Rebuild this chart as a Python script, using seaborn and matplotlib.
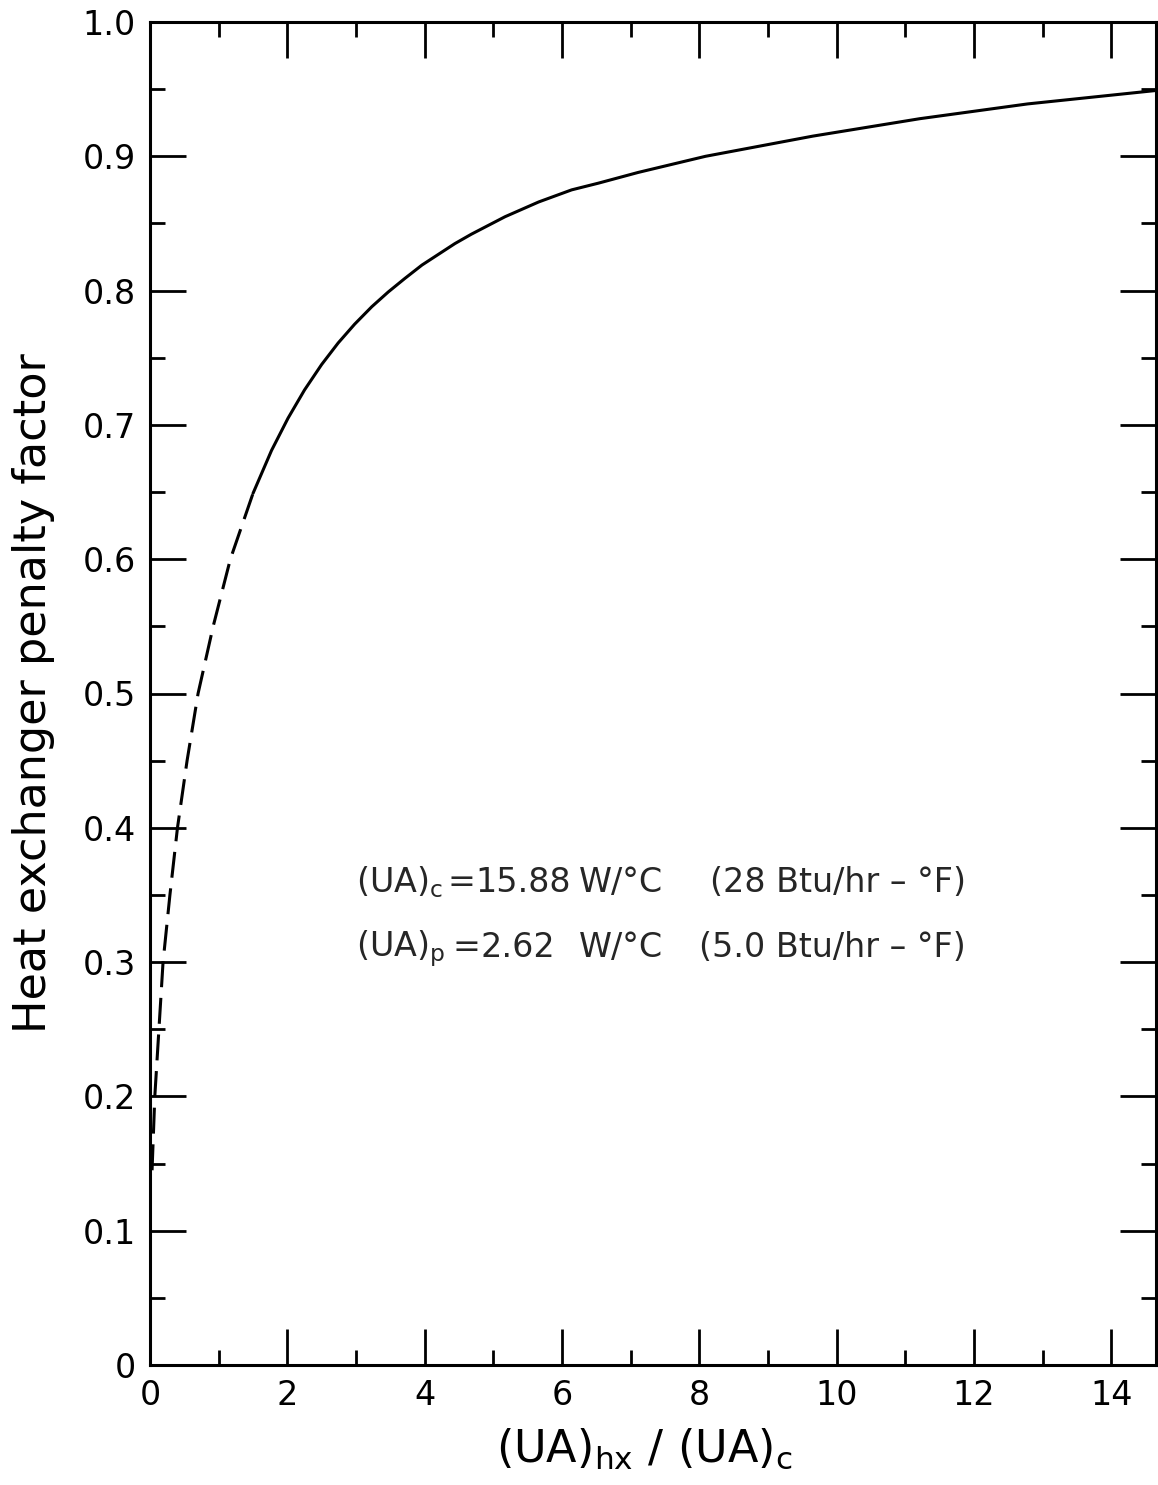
import matplotlib
matplotlib.use('Agg')
import matplotlib.pyplot as plt
import seaborn as sns
import pandas as pd
from matplotlib.ticker import MultipleLocator

# curve: dashed (extrapolated) part and solid part
x_dashed = [0.03, 0.07, 0.13, 0.19, 0.29, 0.40, 0.54, 0.70, 0.92, 1.17, 1.50]
y_dashed = [0.145, 0.20, 0.25, 0.30, 0.35, 0.40, 0.45, 0.50, 0.55, 0.60, 0.649]

x_solid = [1.50, 1.77, 2.01, 2.25, 2.50, 2.74, 2.98, 3.23, 3.47, 3.71, 3.96,
           4.20, 4.44, 4.68, 5.17, 5.66, 6.14, 6.53, 7.11, 8.09, 9.65,
           11.21, 12.78, 14.65]
y_solid = [0.649, 0.681, 0.705, 0.726, 0.745, 0.761, 0.775, 0.788, 0.799,
           0.809, 0.819, 0.827, 0.835, 0.842, 0.855, 0.866, 0.875, 0.880,
           0.888, 0.900, 0.915, 0.928, 0.939, 0.949]

x_ticks = [0, 2, 4, 6, 8, 10, 12, 14]
y_ticks = [0, 0.1, 0.2, 0.3, 0.4, 0.5, 0.6, 0.7, 0.8, 0.9, 1.0]
y_tick_labels = ['0', '0.1', '0.2', '0.3', '0.4', '0.5', '0.6', '0.7', '0.8', '0.9', '1.0']

# annotation, in the spaced-out chunks of the original lettering
note_c = [r'$\mathregular{(UA)_c}$', '=', '15.88', 'W/°C', '(28 Btu/hr – °F)']
note_p = [r'$\mathregular{(UA)_p}$', '=', '2.62', 'W/°C', '(5.0 Btu/hr – °F)']
note_c_x = [3.00, 4.33, 4.74, 6.24, 8.16]
note_p_x = [3.00, 4.40, 4.82, 6.24, 7.99]

sns.set_style('ticks')
plt.rcParams['font.family'] = ['DejaVu Sans']

dashed = pd.DataFrame({'x': x_dashed, 'y': y_dashed})
solid = pd.DataFrame({'x': x_solid, 'y': y_solid})

fig = plt.figure(figsize=(11.58, 14.85), dpi=100)
ax = fig.add_axes([150 / 1158, 120 / 1485, 1006 / 1158, 1343 / 1485])

sns.lineplot(data=dashed, x='x', y='y', ax=ax, color='black', linewidth=2.2,
             linestyle=(0, (8.5, 3.5)), sort=False)
sns.lineplot(data=solid, x='x', y='y', ax=ax, color='black', linewidth=2.2,
             sort=False)

ax.set_xlim(0, 14.65)
ax.set_ylim(0, 1.0)
ax.set_xticks(x_ticks)
ax.set_xticklabels([str(t) for t in x_ticks])
ax.set_yticks(y_ticks)
ax.set_yticklabels(y_tick_labels)
ax.xaxis.set_minor_locator(MultipleLocator(1))
ax.yaxis.set_minor_locator(MultipleLocator(0.05))

ax.tick_params(which='both', direction='in', top=True, right=True,
               width=2, colors='black', labelsize=24, pad=10)
ax.tick_params(which='major', length=26)
ax.tick_params(which='minor', length=11)
for s in ax.spines.values():
    s.set_linewidth(2.2)
    s.set_color('black')

ax.set_xlabel(r'$\mathregular{(UA)_{hx}\ /\ (UA)_c}$', fontsize=32,
              color='black')
ax.xaxis.set_label_coords(0.491, -0.046)
ax.set_ylabel('Heat exchanger penalty factor', fontsize=32, labelpad=20,
              color='black')

for xs, txt in zip(note_c_x, note_c):
    ax.text(xs, 0.352, txt, fontsize=24, ha='left', va='baseline')
for xs, txt in zip(note_p_x, note_p):
    ax.text(xs, 0.304, txt, fontsize=24, ha='left', va='baseline')

fig.savefig('out.png', dpi=100)
